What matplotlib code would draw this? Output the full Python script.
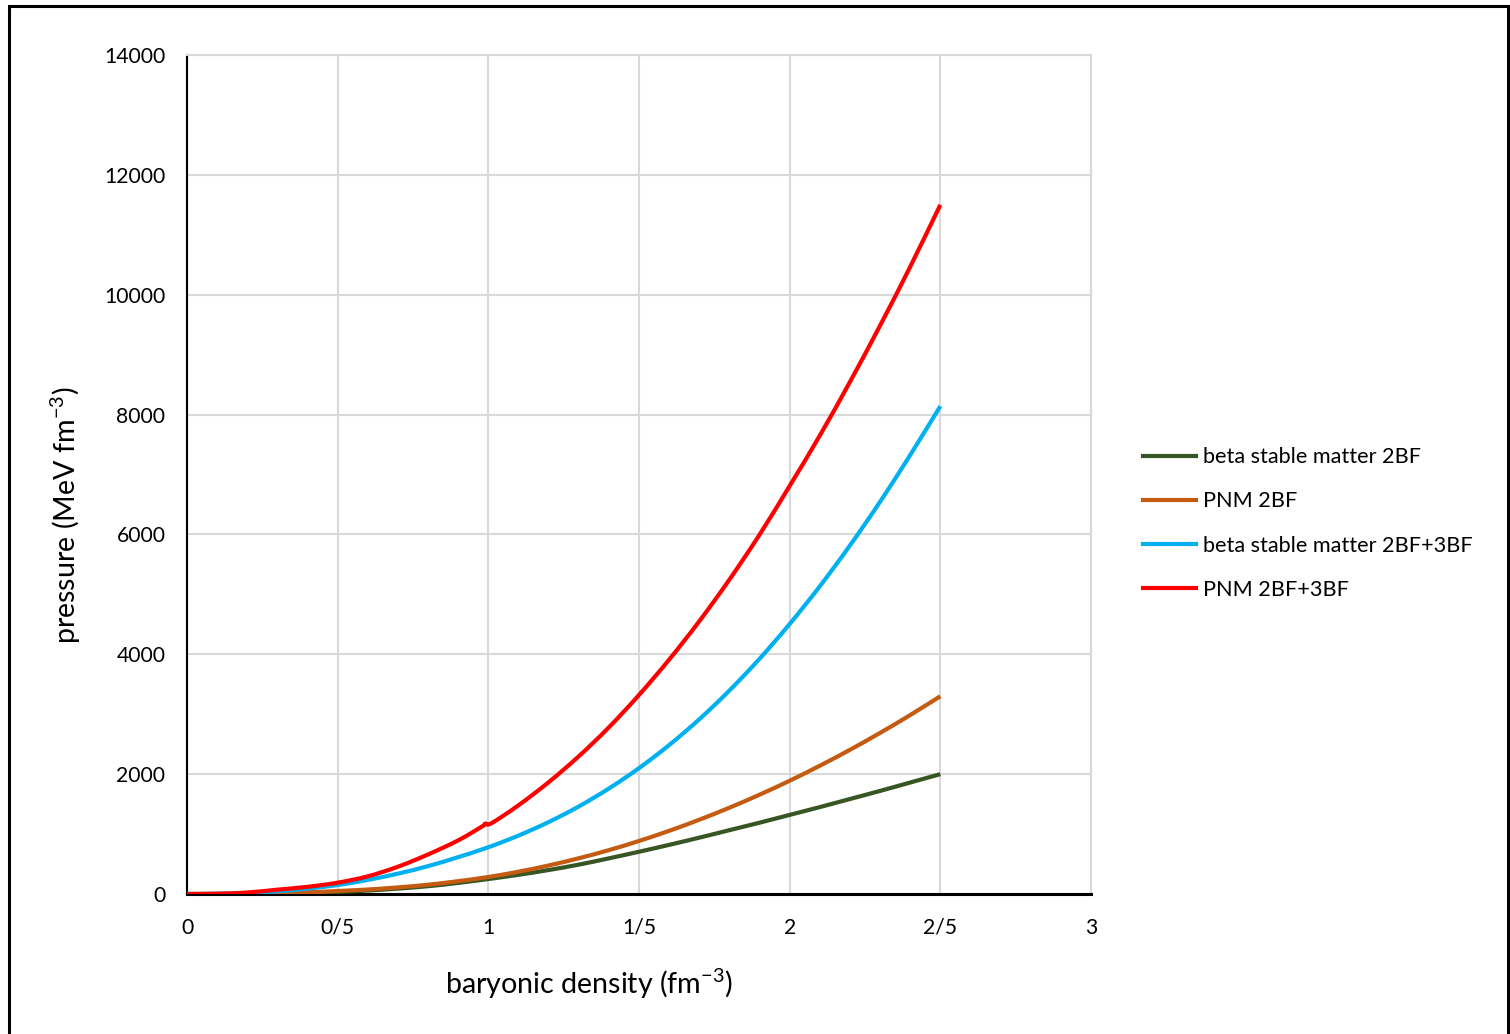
import matplotlib
matplotlib.use("Agg")
import matplotlib.pyplot as plt
from matplotlib.patches import Rectangle, PathPatch
from matplotlib.path import Path
from matplotlib.lines import Line2D

plt.rcParams['font.family'] = ['Lato', 'DejaVu Sans']
plt.rcParams['mathtext.default'] = 'regular'

# baryonic density (fm^-3)
density = [0.0, 0.1, 0.2, 0.3, 0.4, 0.5, 0.6, 0.7, 0.8, 0.9, 1.0, 1.1, 1.2, 1.3,
           1.4, 1.5, 1.6, 1.7, 1.8, 1.9, 2.0, 2.1, 2.2, 2.3, 2.4, 2.5]

beta_2bf = [0, 0.5, 3, 10, 20, 35, 58, 90, 130, 185, 250, 320, 400, 490, 595,
            705, 820, 940, 1065, 1190, 1320, 1450, 1585, 1720, 1860, 2000]

pnm_2bf = [0, 0.5, 4, 13, 28, 50, 75, 110, 155, 214, 284, 372, 476, 596, 732,
           885, 1054, 1239, 1440, 1657, 1890, 2140, 2406, 2688, 2986, 3300]

beta_3bf = [0, 3, 15, 45, 90, 150, 235, 340, 465, 615, 780, 975, 1200, 1460,
            1760, 2100, 2485, 2915, 3395, 3925, 4505, 5135, 5815, 6545, 7325, 8140]

# PNM 2BF+3BF has a small step near density 1
pnm_3bf_x = [0.0, 0.1, 0.2, 0.3, 0.4, 0.5, 0.6, 0.7, 0.8, 0.9, 0.98, 0.99, 1.01,
             1.1, 1.2, 1.3, 1.4, 1.5, 1.6, 1.7, 1.8, 1.9, 2.0, 2.1, 2.2, 2.3, 2.4, 2.5]
pnm_3bf = [0, 4, 25, 72, 120, 189, 295, 455, 660, 895, 1130, 1175, 1180,
           1480, 1865, 2297, 2781, 3321, 3911, 4551, 5246, 5996, 6810, 7650,
           8545, 9485, 10466, 11500]

labels = ["beta stable matter 2BF", "PNM 2BF", "beta stable matter 2BF+3BF", "PNM 2BF+3BF"]
colors = ["#375623", "#C55A11", "#00B0F0", "#FF0000"]

xticks = [0, 0.5, 1, 1.5, 2, 2.5, 3]
xticklabels = ["0", "0/5", "1", "1/5", "2", "2/5", "3"]
yticks = [0, 2000, 4000, 6000, 8000, 10000, 12000, 14000]


def smooth_path(x, y):
    """Excel-like smoothed line: cubic Bezier segments through the data points."""
    pts = list(zip(x, y))
    n = len(pts)
    verts = [pts[0]]
    codes = [Path.MOVETO]
    for i in range(n - 1):
        p0 = pts[i - 1] if i > 0 else pts[i]
        p1 = pts[i]
        p2 = pts[i + 1]
        p3 = pts[i + 2] if i + 2 < n else pts[i + 1]
        c1 = (p1[0] + (p2[0] - p0[0]) / 6.0, p1[1] + (p2[1] - p0[1]) / 6.0)
        c2 = (p2[0] - (p3[0] - p1[0]) / 6.0, p2[1] - (p3[1] - p1[1]) / 6.0)
        verts += [c1, c2, p2]
        codes += [Path.CURVE4, Path.CURVE4, Path.CURVE4]
    return Path(verts, codes)


fig = plt.figure(figsize=(15.1, 10.34), dpi=100)
ax = fig.add_axes([187/1510, 1-894/1034, (1091-187)/1510, (894-55)/1034])

series = [(density, beta_2bf), (density, pnm_2bf), (density, beta_3bf), (pnm_3bf_x, pnm_3bf)]
handles = []
for (x, y), lab, c in zip(series, labels, colors):
    patch = PathPatch(smooth_path(x, y), facecolor='none', edgecolor=c, lw=3.0,
                      capstyle='butt', joinstyle='round', zorder=3)
    ax.add_patch(patch)
    handles.append(Line2D([], [], color=c, lw=3.0, label=lab))

ax.set_xlim(0, 3)
ax.set_ylim(0, 14000)
ax.set_xticks(xticks)
ax.set_xticklabels(xticklabels)
ax.set_yticks(yticks)
ax.set_yticklabels([str(v) for v in yticks])
ax.tick_params(axis='both', length=0, labelsize=15.2)
ax.tick_params(axis='y', pad=15.5)
ax.tick_params(axis='x', pad=17)
ax.grid(True, color='#d9d9d9', lw=1.5, zorder=0)
ax.set_axisbelow(True)
for s in ['top', 'right']:
    ax.spines[s].set_color('#d9d9d9')
    ax.spines[s].set_linewidth(1.5)
ax.spines['left'].set_color('black')
ax.spines['left'].set_linewidth(1.5)
ax.spines['bottom'].set_color('black')
ax.spines['bottom'].set_linewidth(2.2)

fig.text(589/1510, 1-984/1034, "baryonic density (fm$^{-3}$)", ha='center', va='center', fontsize=20.6)
fig.text(66/1510, 1-515/1034, "pressure (MeV fm$^{-3}$)", ha='center', va='center', fontsize=20.6, rotation=90)

leg = ax.legend(handles=handles, loc='center left', bbox_to_anchor=(1143/1510, 1-523.5/1034),
                bbox_transform=fig.transFigure, frameon=False, fontsize=15.6,
                handlelength=2.45, handletextpad=0.3, labelspacing=1.12,
                borderpad=0, borderaxespad=0)

fig.patches.append(Rectangle((8.5/1510, -0.05), (1507.5-8.5)/1510, 1.05-6.5/1034,
                             transform=fig.transFigure, fill=False, edgecolor='black',
                             lw=2.2, zorder=10))

fig.savefig("out.png", dpi=100, facecolor='white')
